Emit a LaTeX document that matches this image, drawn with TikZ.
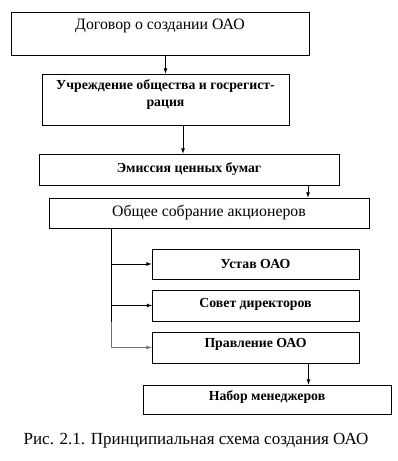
\documentclass[tikz,border=0pt]{standalone}
\usepackage{fontspec}
\setmainfont{Liberation Serif}
\usepackage{tikz}

\begin{document}
\begin{tikzpicture}[
  oaonode/.style={draw, align=center, inner sep=2pt, line width=0.8pt},
  oaoedge/.style={draw, -latex, line width=0.8pt},
  oaobold/.style={font=\fontsize{13.8}{17}\selectfont\bfseries},
  oaoplain/.style={font=\fontsize{15.8}{18}\selectfont},
]
  \useasboundingbox (0pt,0pt) rectangle (398pt,-461pt);
  \node[oaonode, oaoplain, minimum width=298pt, minimum height=43pt, text depth=18pt] (n1) at (160pt,-33.5pt) {Договор о создании ОАО};
  \node[oaonode, oaobold, minimum width=247pt, minimum height=51pt, text depth=13pt] (n2) at (165.5pt,-99.5pt) {Учреждение общества и госрегист-\\рация};
  \draw[oaoedge] (n1.south -| n2.north) -- (n2.north);
  \node[oaonode, oaobold, minimum width=300pt, minimum height=31pt] (n3) at (189pt,-169.5pt) {Эмиссия ценных бумаг};
  \draw[oaoedge] ([xshift=17.5pt]n2.south) -- ([xshift=17.5pt]n2.south |- n3.north);
  \node[oaonode, oaoplain, minimum width=320pt, minimum height=30pt] (n4) at (209pt,-213pt) {Общее собрание акционеров};
  \draw[oaoedge] ([xshift=119pt]n3.south) -- ([xshift=119pt]n3.south |- n4.north);
  \node[oaonode, oaobold, minimum width=207pt, minimum height=30pt] (n5) at (255.5pt,-264pt) {Устав ОАО};
  \node[oaonode, oaobold, minimum width=207pt, minimum height=31pt, text depth=6pt] (n6) at (255.5pt,-305.5pt) {Совет директоров};
  \node[oaonode, oaobold, minimum width=207pt, minimum height=31pt, text depth=9pt] (n7) at (255.5pt,-347.5pt) {Правление ОАО};
  \node[oaonode, oaobold, minimum width=248pt, minimum height=29pt, text depth=7pt] (n8) at (267pt,-399.5pt) {Набор менеджеров};
  \coordinate (trunk) at (111pt,-228pt);
  \draw[line width=0.8pt] (trunk) -- ++(0pt,-94pt) coordinate (bend);
  \draw[oaoedge, black!55] (bend) |- (n7.west);
  \draw[oaoedge] (trunk |- n5.west) -- (n5.west);
  \draw[oaoedge] (trunk |- n6.west) -- ++(41pt,0pt);
  \draw[oaoedge] ([xshift=53pt]n7.south) -- ([xshift=53pt]n7.south |- n8.north);
  \node[font=\fontsize{17}{20}\selectfont] (caption) at (196pt,-441pt) {Рис. 2.1. Принципиальная схема создания ОАО};
\end{tikzpicture}
\end{document}
